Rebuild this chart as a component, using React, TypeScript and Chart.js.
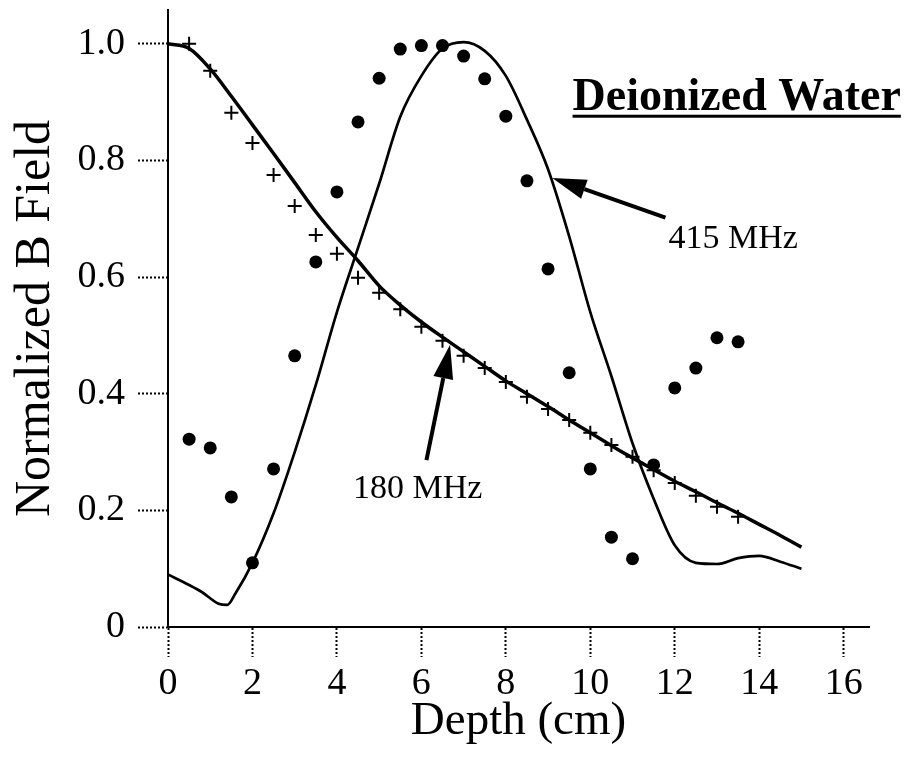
import React, { useEffect, useRef } from 'react';
import { Chart, registerables } from 'chart.js';

Chart.register(...registerables);

const FONT = "'Liberation Serif', 'Times New Roman', serif";

// Measured depths (cm)
const measuredDepth = [0.5, 1, 1.5, 2, 2.5, 3, 3.5, 4, 4.5, 5, 5.5, 6, 6.5, 7, 7.5, 8, 8.5, 9, 9.5, 10, 10.5, 11, 11.5, 12, 12.5, 13, 13.5];
// 415 MHz measured (filled circles)
const b415Measured = [0.322, 0.307, 0.223, 0.110, 0.271, 0.465, 0.626, 0.746, 0.866, 0.941, 0.991, 0.997, 0.997, 0.979, 0.940, 0.876, 0.765, 0.614, 0.436, 0.271, 0.154, 0.117, 0.278, 0.410, 0.444, 0.496, 0.489];
// 180 MHz measured (crosses)
const b180Measured = [1.0, 0.954, 0.882, 0.830, 0.775, 0.722, 0.672, 0.640, 0.599, 0.573, 0.545, 0.515, 0.491, 0.465, 0.444, 0.420, 0.395, 0.374, 0.355, 0.333, 0.312, 0.292, 0.269, 0.247, 0.225, 0.206, 0.189];

// 180 MHz calculated curve
const calc180Depth = [0, 0.5, 1, 1.5, 2, 2.5, 3, 3.5, 4, 4.5, 5, 5.5, 6, 6.5, 7, 7.5, 8, 8.5, 9, 9.5, 10, 10.5, 11, 11.5, 12, 12.5, 13, 13.5, 14, 14.5, 15];
const calc180Value = [1.0, 0.992, 0.957, 0.910, 0.861, 0.812, 0.762, 0.712, 0.668, 0.628, 0.585, 0.552, 0.523, 0.497, 0.472, 0.447, 0.422, 0.400, 0.378, 0.355, 0.333, 0.311, 0.290, 0.270, 0.250, 0.232, 0.213, 0.195, 0.176, 0.157, 0.137];

// 415 MHz calculated curve
const calc415Depth = [0, 0.5, 0.8, 1.2, 1.4, 1.6, 2, 2.5, 3, 3.5, 4, 4.5, 5, 5.5, 6, 6.5, 7, 7.5, 8, 8.5, 9, 9.5, 10, 10.5, 11, 11.5, 12, 12.5, 13, 13.5, 14, 14.5, 15];
const calc415Value = [0.09, 0.072, 0.06, 0.04, 0.038, 0.058, 0.11, 0.195, 0.30, 0.415, 0.54, 0.65, 0.76, 0.875, 0.945, 0.992, 1.003, 0.988, 0.945, 0.87, 0.785, 0.67, 0.54, 0.43, 0.315, 0.22, 0.14, 0.11, 0.108, 0.118, 0.122, 0.112, 0.10];

const xTickValues = [0, 2, 4, 6, 8, 10, 12, 14, 16];
const yTickValues = [0, 0.2, 0.4, 0.6, 0.8, 1.0];

const xTitle = 'Depth (cm)';
const yTitle = 'Normalized B Field';
const plotTitle = 'Deionized Water';
const label415 = '415 MHz';
const label180 = '180 MHz';

// annotation anchors in data coordinates
const titleAnchor = [9.58, 0.887];
const label415Anchor = [11.85, 0.650];
const label180Anchor = [4.38, 0.221];
const arrow415 = [[11.78, 0.702], [9.10, 0.770]];
const arrow180 = [[6.12, 0.286], [6.68, 0.484]];

const zip = (xs: number[], ys: number[]) => xs.map((x, i) => ({ x, y: ys[i] }));

function drawArrow(ctx: CanvasRenderingContext2D, x1: number, y1: number, x2: number, y2: number) {
  const ang = Math.atan2(y2 - y1, x2 - x1);
  const headLen = 34;
  const headHalf = 10;
  const bx = x2 - headLen * Math.cos(ang);
  const by = y2 - headLen * Math.sin(ang);
  ctx.beginPath();
  ctx.moveTo(x1, y1);
  ctx.lineTo(bx, by);
  ctx.lineWidth = 4;
  ctx.strokeStyle = '#000';
  ctx.stroke();
  ctx.beginPath();
  ctx.moveTo(x2, y2);
  ctx.lineTo(bx + headHalf * Math.sin(ang), by - headHalf * Math.cos(ang));
  ctx.lineTo(bx - headHalf * Math.sin(ang), by + headHalf * Math.cos(ang));
  ctx.closePath();
  ctx.fillStyle = '#000';
  ctx.fill();
}

const annotationPlugin = {
  id: 'annotationsPlugin',
  afterDatasetsDraw(chart: any) {
    const { ctx, scales } = chart;
    const xs = scales.x;
    const ys = scales.y;
    const px = (v: number) => xs.getPixelForValue(v);
    const py = (v: number) => ys.getPixelForValue(v);
    ctx.save();
    ctx.fillStyle = '#000';
    ctx.textAlign = 'left';
    ctx.textBaseline = 'alphabetic';

    ctx.font = `bold 46px ${FONT}`;
    const tx = px(titleAnchor[0]);
    const ty = py(titleAnchor[1]);
    ctx.fillText(plotTitle, tx, ty);
    const w = ctx.measureText(plotTitle).width;
    ctx.fillRect(tx, ty + 5, w, 3);

    ctx.font = `34px ${FONT}`;
    ctx.fillText(label415, px(label415Anchor[0]), py(label415Anchor[1]));
    ctx.fillText(label180, px(label180Anchor[0]), py(label180Anchor[1]));

    drawArrow(ctx, px(arrow415[0][0]), py(arrow415[0][1]), px(arrow415[1][0]), py(arrow415[1][1]));
    drawArrow(ctx, px(arrow180[0][0]), py(arrow180[0][1]), px(arrow180[1][0]), py(arrow180[1][1]));
    ctx.restore();
  },
};

export default function App() {
  const canvasRef = useRef<HTMLCanvasElement | null>(null);

  useEffect(() => {
    const canvas = canvasRef.current;
    if (!canvas) return;
    const axisCommon = {
      grid: {
        display: true,
        drawOnChartArea: false,
        drawTicks: true,
        tickLength: 30,
        tickColor: '#000',
        tickWidth: 2,
        tickBorderDash: [2, 2],
      },
      border: { display: true, color: '#000', width: 2, dash: [2, 2] },
    };
    const chart = new Chart(canvas, {
      type: 'line',
      data: {
        datasets: [
          {
            label: '180 MHz calc',
            data: zip(calc180Depth, calc180Value),
            borderColor: '#000',
            borderWidth: 3.5,
            pointRadius: 0,
            fill: false,
            cubicInterpolationMode: 'monotone',
          },
          {
            label: '415 MHz calc',
            data: zip(calc415Depth, calc415Value),
            borderColor: '#000',
            borderWidth: 2.7,
            pointRadius: 0,
            fill: false,
            cubicInterpolationMode: 'monotone',
          },
          {
            label: '180 MHz measured',
            data: zip(measuredDepth, b180Measured),
            showLine: false,
            pointStyle: 'cross',
            pointRadius: 7,
            borderColor: '#000',
            borderWidth: 2,
            backgroundColor: '#000',
          },
          {
            label: '415 MHz measured',
            data: zip(measuredDepth, b415Measured),
            showLine: false,
            pointStyle: 'circle',
            pointRadius: 6.5,
            borderWidth: 0,
            borderColor: '#000',
            backgroundColor: '#000',
          },
        ],
      },
      options: {
        animation: false,
        responsive: false,
        devicePixelRatio: 1,
        layout: { padding: { top: 10, right: 51, left: 0, bottom: 0 } },
        plugins: { legend: { display: false }, tooltip: { enabled: false } },
        scales: {
          x: {
            type: 'linear',
            min: 0,
            max: 16.6,
            ...axisCommon,
            afterBuildTicks: (s: any) => {
              s.ticks = xTickValues.map((v) => ({ value: v }));
            },
            afterFit: (s: any) => {
              s.height = 139;
              s.paddingLeft = 0;
              s.paddingRight = 0;
            },
            ticks: {
              color: '#000',
              font: { family: FONT, size: 38 },
              padding: 4,
              maxRotation: 0,
              autoSkip: false,
              callback: (v: any) => String(v),
            },
            title: {
              display: true,
              text: xTitle,
              color: '#000',
              font: { family: FONT, size: 47 },
              padding: { top: 0, bottom: 16 },
            },
          },
          y: {
            type: 'linear',
            min: 0,
            max: 1.058,
            ...axisCommon,
            afterBuildTicks: (s: any) => {
              s.ticks = yTickValues.map((v) => ({ value: v }));
            },
            afterFit: (s: any) => {
              s.width = 168;
              s.paddingTop = 0;
              s.paddingBottom = 0;
            },
            ticks: {
              color: '#000',
              font: { family: FONT, size: 38 },
              padding: 13,
              autoSkip: false,
              callback: (v: any) => (v === 0 ? '0' : Number(v).toFixed(1)),
            },
            title: {
              display: true,
              text: yTitle,
              color: '#000',
              font: { family: FONT, size: 50 },
              padding: { top: 6, bottom: 0 },
            },
          },
        },
      },
      plugins: [annotationPlugin],
    } as any);
    return () => chart.destroy();
  }, []);

  return (
    <div style={{ position: 'absolute', left: 0, top: 0, width: 920, height: 766, background: '#fff' }}>
      <canvas ref={canvasRef} width={920} height={766} style={{ display: 'block' }} />
    </div>
  );
}
